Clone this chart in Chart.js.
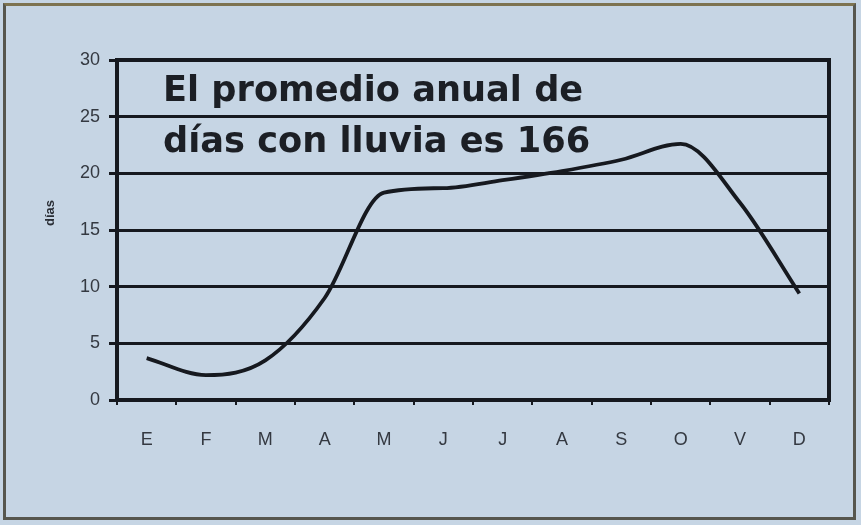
<!DOCTYPE html>
<html lang="es">
<head>
<meta charset="utf-8">
<title>Días con lluvia</title>
<script src="https://cdn.jsdelivr.net/npm/chart.js@4.4.1/dist/chart.umd.min.js"></script>
<style>
  html, body { margin: 0; padding: 0; background: #c6d5e4; }
  #wrap { position: relative; width: 861px; height: 525px; overflow: hidden; }
  #frame {
    position: absolute; left: 3px; top: 3px; width: 847px; height: 511px;
    border: 3px solid #56564e; border-top-color: #7d7350;
  }
  #chart { position: absolute; left: 0; top: 0; }
</style>
</head>
<body>
<div id="wrap">
  <div id="frame"></div>
  <canvas id="chart" width="861" height="525"></canvas>
</div>
<script>
  var MESES = ['E', 'F', 'M', 'A', 'M', 'J', 'J', 'A', 'S', 'O', 'V', 'D'];
  // días con lluvia por mes (promedio)
  var DIAS_LLUVIA = [3.7, 2.2, 3.5, 9.0, 18.3, 18.7, 19.4, 20.2, 21.2, 22.6, 17.4, 9.4];
  var Y_TICKS = [0, 5, 10, 15, 20, 25, 30];
  var LEYENDA = ['El promedio anual de', 'días con lluvia es 166'];
  var TITULO_Y = 'días';

  var INK = '#16191f';
  var TEXTO = '#343941';
  var FONT = "'Liberation Sans', Arial, sans-serif";

  // marco completo del área del gráfico (derecha incluida)
  var marcoPlugin = {
    id: 'marco',
    afterDatasetsDraw: function (chart) {
      var a = chart.chartArea;
      var ctx = chart.ctx;
      ctx.save();
      ctx.strokeStyle = INK;
      ctx.lineWidth = 4;
      ctx.strokeRect(a.left, a.top, a.right - a.left, a.bottom - a.top);
      ctx.restore();
    }
  };

  // texto del promedio dentro del área y rótulo vertical del eje
  var textosPlugin = {
    id: 'textos',
    afterDatasetsDraw: function (chart) {
      var a = chart.chartArea;
      var ctx = chart.ctx;
      ctx.save();
      ctx.fillStyle = '#1c1f25';
      ctx.textBaseline = 'alphabetic';
      ctx.textAlign = 'left';
      var size = 30;
      ctx.font = 'bold ' + size + "px 'DejaVu Sans', sans-serif";
      var w = ctx.measureText(LEYENDA[0]).width;
      size = size * 420 / w;
      ctx.font = 'bold ' + size.toFixed(1) + "px 'DejaVu Sans', sans-serif";
      ctx.fillText(LEYENDA[0], a.left + 46, a.top + 41);
      ctx.fillText(LEYENDA[1], a.left + 46, a.top + 92);

      var ys = chart.scales.y;
      ctx.translate(ys.left + 7, (a.top + a.bottom) / 2 - 17);
      ctx.rotate(-Math.PI / 2);
      ctx.textAlign = 'center';
      ctx.textBaseline = 'middle';
      ctx.fillStyle = '#2a2e35';
      ctx.font = 'bold 13px ' + FONT;
      ctx.fillText(TITULO_Y, 0, 0);
      ctx.restore();
    }
  };

  new Chart(document.getElementById('chart').getContext('2d'), {
    type: 'line',
    data: {
      labels: MESES,
      datasets: [{
        data: DIAS_LLUVIA,
        borderColor: INK,
        borderWidth: 3.8,
        pointRadius: 0,
        cubicInterpolationMode: 'monotone',
        fill: false
      }]
    },
    options: {
      responsive: false,
      animation: false,
      layout: { padding: { top: 60, right: 32, bottom: 0, left: 43 } },
      plugins: {
        legend: { display: false },
        tooltip: { enabled: false }
      },
      scales: {
        x: {
          offset: true,
          grid: { display: true, drawOnChartArea: false, color: INK, lineWidth: 2, tickLength: 5, offset: true },
          border: { display: true, color: INK, width: 4 },
          ticks: { color: TEXTO, padding: 24, font: { family: FONT, size: 18 } },
          afterFit: function (scale) { scale.height = 125; }
        },
        y: {
          min: 0,
          max: 30,
          afterBuildTicks: function (scale) {
            scale.ticks = Y_TICKS.map(function (v) { return { value: v }; });
          },
          grid: { color: INK, lineWidth: 3, tickLength: 8 },
          border: { display: true, color: INK, width: 4 },
          ticks: { color: TEXTO, padding: 9, font: { family: FONT, size: 18 } },
          afterFit: function (scale) { scale.width = 74; }
        }
      }
    },
    plugins: [marcoPlugin, textosPlugin]
  });
</script>
</body>
</html>
